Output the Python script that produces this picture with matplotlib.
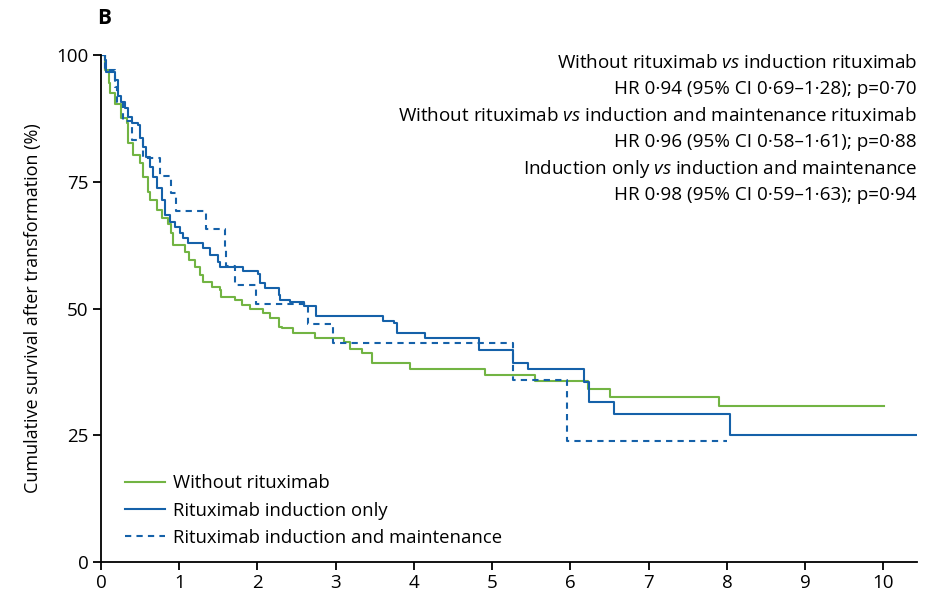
import matplotlib
matplotlib.use('Agg')
import matplotlib.pyplot as plt

plt.rcParams['font.family'] = ['Open Sans', 'DejaVu Sans']
plt.rcParams['mathtext.fontset'] = 'custom'
plt.rcParams['mathtext.rm'] = 'Open Sans'
plt.rcParams['mathtext.it'] = 'Open Sans:italic'

# step data (time in years, survival in %)
no_rtx_t = [0, 0.05, 0.1, 0.12, 0.18, 0.26, 0.33, 0.35, 0.41, 0.5, 0.54, 0.6, 0.63, 0.72,
            0.78, 0.86, 0.9, 0.92, 1.08, 1.13, 1.2, 1.27, 1.3, 1.42, 1.52, 1.54, 1.71, 1.8,
            1.9, 2.07, 2.16, 2.27, 2.31, 2.46, 2.74, 3.1, 3.18, 3.33, 3.46, 3.95, 4.91, 5.55,
            6.23, 6.51, 7.9, 10.01]
no_rtx_s = [100, 97, 94.5, 92.5, 90.3, 87.5, 86.6, 82.6, 80.3, 78.7, 76, 73, 71.4, 69.5,
            67.8, 66.7, 64.9, 62.5, 61.1, 59.6, 58.2, 56.6, 55.2, 54.2, 53.6, 52.3, 51.7, 50.7,
            49.9, 49.1, 48.1, 46.4, 46.1, 45.2, 44.2, 43.3, 42.1, 41.3, 39.3, 38.1, 36.8, 35.7,
            34.1, 32.6, 30.8, 30.8]

ind_t = [0, 0.05, 0.07, 0.18, 0.22, 0.26, 0.31, 0.35, 0.39, 0.47, 0.5, 0.54, 0.58, 0.63,
         0.67, 0.71, 0.78, 0.82, 0.88, 0.95, 1.01, 1.05, 1.11, 1.3, 1.39, 1.5, 1.52, 1.82,
         2.01, 2.03, 2.1, 2.27, 2.29, 2.42, 2.59, 2.75, 3.61, 3.74, 3.78, 4.14, 4.83, 5.27,
         5.46, 6.18, 6.24, 6.56, 8.04, 10.43]
ind_s = [100, 99, 96.7, 95, 92, 90.8, 89.5, 87.8, 86.6, 86.2, 83.6, 81.9, 79.9, 77.9,
         75.9, 73.7, 71.4, 68.4, 67.1, 66.1, 64.9, 63.9, 62.9, 61.9, 60.5, 59.2, 58.2, 57.4,
         56.8, 55, 54, 52.6, 51.7, 51.2, 50.4, 48.6, 47.6, 47.1, 45.2, 44.1, 41.8, 39.3,
         38.0, 35.6, 31.6, 29.2, 25.0, 25.0]

maint_t = [0, 0.05, 0.18, 0.2, 0.28, 0.39, 0.54, 0.75, 0.9, 0.96, 1.34, 1.59, 1.6, 1.71,
           1.98, 2.64, 2.97, 5.27, 5.95, 8.0]
maint_s = [100, 97, 93.7, 90.8, 86.9, 83.2, 79.7, 76.1, 72.8, 69.3, 65.7, 62.2, 58.4, 54.6,
           50.8, 46.9, 43.1, 35.8, 23.9, 23.9]

x_ticks = list(range(0, 11))
y_ticks = [0, 25, 50, 75, 100]

hr_lines = [
    r'Without rituximab $\mathit{vs}$ induction rituximab',
    'HR 0·94 (95% CI 0·69–1·28); p=0·70',
    r'Without rituximab $\mathit{vs}$ induction and maintenance rituximab',
    'HR 0·96 (95% CI 0·58–1·61); p=0·88',
    r'Induction only $\mathit{vs}$ induction and maintenance',
    'HR 0·98 (95% CI 0·59–1·63); p=0·94',
]

green = '#72b443'
blue = '#1561a9'

fig = plt.figure(figsize=(9.29, 5.93), dpi=100)
ax = fig.add_axes([101 / 929, 1 - 562 / 593, (917 - 101) / 929, (562 - 55) / 593])

ax.plot(no_rtx_t, no_rtx_s, drawstyle='steps-post', color=green, lw=1.5,
        label='Without rituximab')
ax.plot(ind_t, ind_s, drawstyle='steps-post', color=blue, lw=1.5,
        label='Rituximab induction only')
ax.plot(maint_t, maint_s, drawstyle='steps-post', color=blue, lw=1.5, ls=(0, (3, 2.5)),
        label='Rituximab induction and maintenance')

ax.set_xlim(0, 10.43)
ax.set_ylim(0, 100)
ax.set_xticks(x_ticks)
ax.set_yticks(y_ticks)
ax.spines['top'].set_visible(False)
ax.spines['right'].set_visible(False)
ax.spines['left'].set_linewidth(1.3)
ax.spines['bottom'].set_linewidth(1.3)
ax.tick_params(direction='out', length=6, width=1.3, labelsize=13.5, pad=3)
ax.set_ylabel('Cumulative survival after transformation (%)', fontsize=13, labelpad=10)

ax.legend(loc='lower left', bbox_to_anchor=(0.029, 0.03), frameon=False, fontsize=13.3,
          handlelength=2.2, handletextpad=0.4, labelspacing=0.5, borderpad=0,
          borderaxespad=0)

for i, line in enumerate(hr_lines):
    fig.text(917 / 929, 1 - (63 + i * 26.4) / 593, line, ha='right', va='center',
             fontsize=13.6)

fig.text(97 / 929, 1 - 18 / 593, 'B', fontsize=15, fontweight='bold', va='center')

fig.savefig('out.png', dpi=100)
